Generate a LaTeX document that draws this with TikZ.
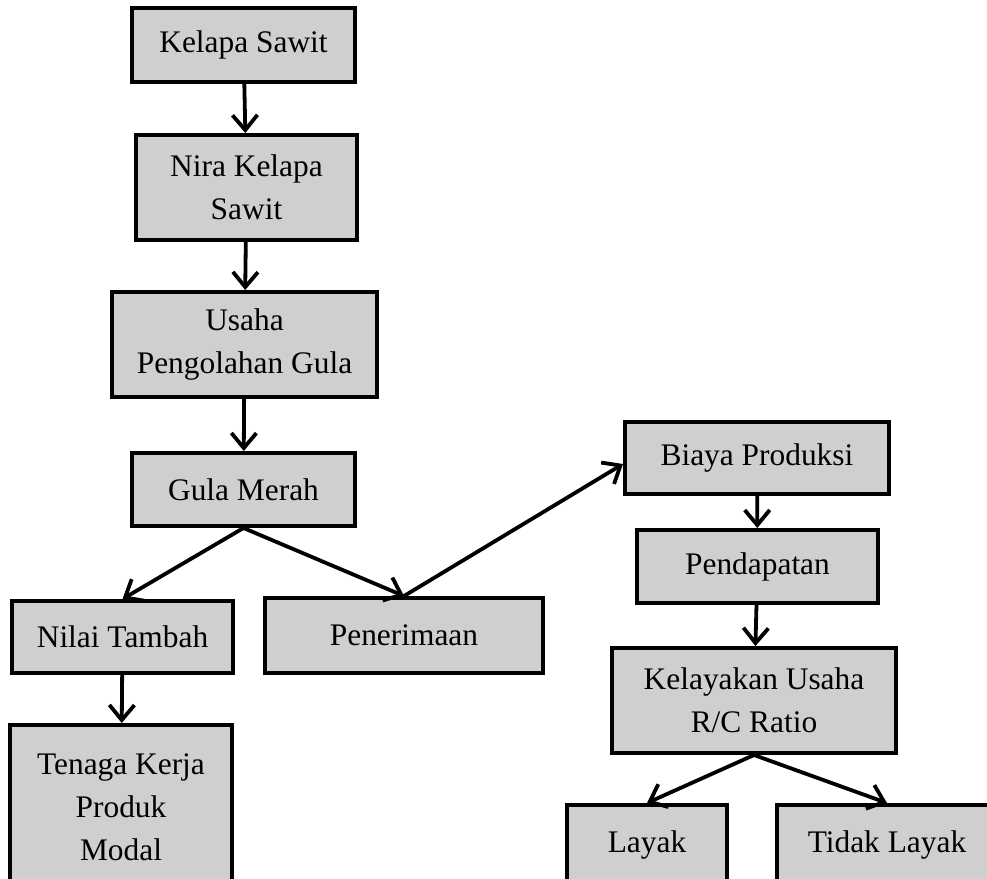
\documentclass[tikz,border=0pt]{standalone}
\usepackage{fontspec}
\setmainfont{Liberation Serif}
\usepackage{tikz}
\usetikzlibrary{positioning,calc,arrows.meta}

\definecolor{kotakabu}{RGB}{208,206,206}

\tikzset{
    kotak/.style={draw, fill=kotakabu, line width=2pt, align=center, inner sep=2pt,
        font=\fontsize{15.7}{21.5}\selectfont},
    panah/.style={-{Straight Barb[length=7.5pt,width=12.5pt]}, line width=1.9pt}
}

\begin{document}
\begin{tikzpicture}[x=0.5pt, y=-0.5pt]
    \useasboundingbox (0,0) rectangle (987,879);

    % Alur utama
    \node[kotak, minimum width=111.5pt, minimum height=37pt] (sawit) at (243.5,45) {Kelapa Sawit};
    \node[kotak, minimum width=110.5pt, minimum height=52.5pt] (nira) at (246.5,187.5) {Nira Kelapa\\Sawit};
    \node[kotak, minimum width=132.5pt, minimum height=52.5pt] (usaha) at (244.5,344.5) {Usaha\\Pengolahan Gula};
    \node[kotak, minimum width=111.5pt, minimum height=36.5pt] (gula) at (243.5,489.5) {Gula Merah};

    % Cabang kiri
    \node[kotak, minimum width=110.5pt, minimum height=36pt] (nilai) at (122.5,637) {Nilai Tambah};
    \node[kotak, minimum width=111pt, minimum height=82pt] (tenaga) at (121,807) {Tenaga Kerja\\Produk\\Modal};
    \node[kotak, minimum width=139pt, minimum height=37.5pt] (terima) at (404,635.5) {Penerimaan};

    % Cabang kanan
    \node[kotak, minimum width=132pt, minimum height=36pt] (biaya) at (757,458) {Biaya Produksi};
    \node[kotak, minimum width=120.5pt, minimum height=36.5pt] (dapat) at (757.5,566.5) {Pendapatan};
    \node[kotak, minimum width=142pt, minimum height=52.5pt] (kelayakan) at (754,700.5) {Kelayakan Usaha\\R/C Ratio};
    \node[kotak, minimum width=80pt, minimum height=40pt] (layak) at (647,845) {Layak};
    \node[kotak, minimum width=110pt, minimum height=40pt] (tidak) at (887,845) {Tidak Layak};

    % Panah
    \draw[panah] (sawit) -- (nira);
    \draw[panah] (nira) -- (usaha);
    \draw[panah] (usaha) -- (gula);
    \draw[panah] (gula.south) -- (nilai.north);
    \draw[panah] (gula.south) -- (terima.north);
    \draw[panah] (nilai) -- (tenaga);
    \draw[panah] (terima.north) -- ([yshift=-3pt]biaya.west);
    \draw[panah] (biaya) -- (dapat);
    \draw[panah] (dapat) -- (kelayakan);
    \draw[panah] (kelayakan.south) -- (layak.north);
    \draw[panah] (kelayakan.south) -- (tidak.north);
\end{tikzpicture}
\end{document}
